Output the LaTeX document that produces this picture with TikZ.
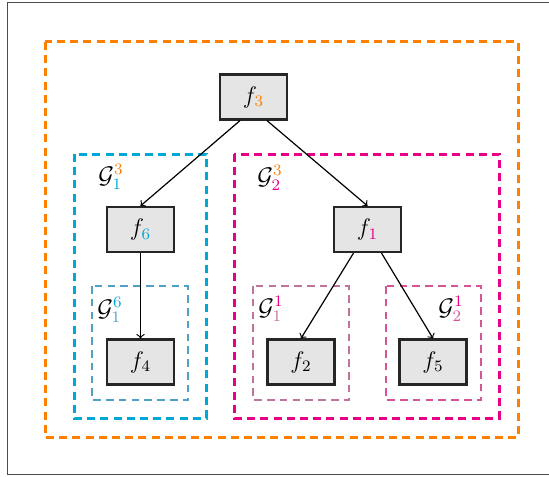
\documentclass[tikz,border=0pt]{standalone}
\usepackage{amsmath}
\usepackage{amssymb}
\usepackage{xcolor}
\definecolor{gorange}{RGB}{255,128,0}
\definecolor{gcyan}{RGB}{0,168,214}
\definecolor{gmagenta}{RGB}{232,0,136}
\definecolor{gsteel}{RGB}{80,160,200}
\definecolor{gmauve}{RGB}{192,116,156}
\definecolor{gpink}{RGB}{214,84,150}
\tikzset{fbox/.style={draw=black!85,line width=1.1pt,fill=black!10,minimum width=33.5pt,minimum height=22.5pt,inner sep=0pt,font=\large},
  glabel/.style={font=\large,inner sep=0pt},
  grp/.style={line width=1.5pt,dash pattern=on 4pt off 2.6pt},
  subgrp/.style={line width=1.3pt,dash pattern=on 3.8pt off 2.6pt}}

\begin{document}
\begin{tikzpicture}[x=0.5pt,y=-0.5pt]
  \useasboundingbox (0,0) rectangle (549,476);
  \draw[black!70,line width=0.8pt] (7.5,2.5) rectangle (600,474.5);
  % groups
  \draw[gorange,grp]  (45,42) rectangle (518,437);
  \draw[gcyan,grp]    (74,154) rectangle (206,418);
  \draw[gmagenta,grp] (234,154) rectangle (499,418);
  \draw[gsteel,subgrp] (92,286) rectangle (188,400);
  \draw[gmauve,subgrp] (253,286) rectangle (349,400);
  \draw[gpink,subgrp]  (386,286) rectangle (481,400);
  % labels
  \node[glabel] (g13) at (111,177) {$\mathcal{G}^{\textcolor{gorange}{3}}_{\textcolor{gcyan}{1}}$};
  \node[glabel] (g23) at (270,178) {$\mathcal{G}^{\textcolor{gorange}{3}}_{\textcolor{gmagenta}{2}}$};
  \node[glabel] (g16) at (110,310) {$\mathcal{G}^{\textcolor{gcyan}{6}}_{\textcolor{gsteel}{1}}$};
  \node[glabel] (g11) at (271,309) {$\mathcal{G}^{\textcolor{gmagenta}{1}}_{\textcolor{gmauve}{1}}$};
  \node[glabel] (g21) at (451,309) {$\mathcal{G}^{\textcolor{gmagenta}{1}}_{\textcolor{gpink}{2}}$};
  % functions
  \node[fbox] (f3) at (253.5,97)  {$f_{\textcolor{gorange}{3}}$};
  \node[fbox] (f6) at (140.5,229.5) {$f_{\textcolor{gcyan}{6}}$};
  \node[fbox] (f1) at (367.5,229.5) {$f_{\textcolor{gmagenta}{1}}$};
  \node[fbox] (f4) at (140.5,362) {$f_4$};
  \node[fbox] (f2) at (301,362) {$f_2$};
  \node[fbox] (f5) at (433,362) {$f_5$};
  \draw[->,line width=0.6pt] ([xshift=-6.75pt]f3.south) -- (f6.north);
  \draw[->,line width=0.6pt] ([xshift=6.75pt]f3.south) -- (f1.north);
  \draw[->,line width=0.6pt] (f6.south) -- (f4.north);
  \draw[->,line width=0.6pt] ([xshift=-7pt]f1.south) -- (f2.north);
  \draw[->,line width=0.6pt] ([xshift=7pt]f1.south) -- (f5.north);
\end{tikzpicture}
\end{document}
